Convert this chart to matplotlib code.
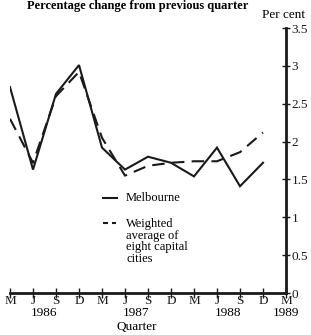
import matplotlib
matplotlib.use("Agg")
import matplotlib.pyplot as plt

quarters = ["M", "J", "S", "D", "M", "J", "S", "D", "M", "J", "S", "D", "M"]
years = ["1986", "1987", "1988", "1989"]
melbourne = [2.72, 1.63, 2.63, 3.01, 1.92, 1.63, 1.80, 1.72, 1.54, 1.92, 1.41, 1.72]
weighted = [2.30, 1.72, 2.60, 2.92, 2.05, 1.55, 1.68, 1.72, 1.74, 1.74, 1.86, 2.12]
yticks = [0, 0.5, 1, 1.5, 2, 2.5, 3, 3.5]
ytick_labels = ["0", "0.5", "1", "1.5", "2", "2.5", "3", "3.5"]

plt.rcParams["font.family"] = ["Liberation Serif", "DejaVu Serif"]

W, H = 311, 335
fig = plt.figure(figsize=(3.11, 3.35), dpi=100)
ax = fig.add_axes([10/W, 42/H, 276/W, 265/H])
ax.set_xlim(0, 12)
ax.set_ylim(0, 3.5)

x = list(range(len(melbourne)))
ax.plot(x, melbourne, color="#1a1a1a", lw=1.5, solid_joinstyle="miter")
ax.plot(x, weighted, color="#1a1a1a", lw=1.5, dashes=(6, 3.5))

for s in ["left", "top"]:
    ax.spines[s].set_visible(False)
for s in ["right", "bottom"]:
    ax.spines[s].set_linewidth(2)
    ax.spines[s].set_color("#1a1a1a")

ax.yaxis.tick_right()
ax.set_yticks(yticks)
ax.set_yticklabels(ytick_labels, fontsize=9.5)
ax.tick_params(axis="y", direction="inout", length=6, width=1, pad=1, colors="#1a1a1a")

ax.set_xticks(range(len(quarters)))
ax.set_xticklabels(quarters, fontsize=9.5)
ax.tick_params(axis="x", direction="inout", length=7, width=1, pad=-2, colors="#1a1a1a")

year_pos = [1.5, 5.5, 9.5, 12]
for xp, yl in zip(year_pos, years):
    xf = (10 + xp * 23) / W
    fig.text(xf, 1 - 313/H, yl, ha="center", va="center", fontsize=9.5)
fig.text((10 + 5.5 * 23) / W, 1 - 327/H, "Quarter", ha="center", va="center", fontsize=9.5)

fig.text(138/W, 1 - 6/H, "Percentage change from previous quarter",
         ha="center", va="center", fontsize=9, fontweight="bold")
fig.text(284/W, 1 - 15/H, "Per cent", ha="center", va="center", fontsize=9.5)

# Legend
ax.plot([4.05, 4.65], [1.255, 1.255], color="#1a1a1a", lw=1.5)
ax.text(5.05, 1.255, "Melbourne", ha="left", va="center", fontsize=9)
ax.plot([4.05, 4.25], [0.925, 0.925], color="#1a1a1a", lw=1.5, solid_capstyle="butt")
ax.plot([4.42, 4.62], [0.925, 0.925], color="#1a1a1a", lw=1.5, solid_capstyle="butt")
ax.text(5.05, 0.99, "Weighted\naverage of\neight capital\ncities", ha="left", va="top",
        fontsize=9, linespacing=0.95)

fig.savefig("out.png", dpi=100)
